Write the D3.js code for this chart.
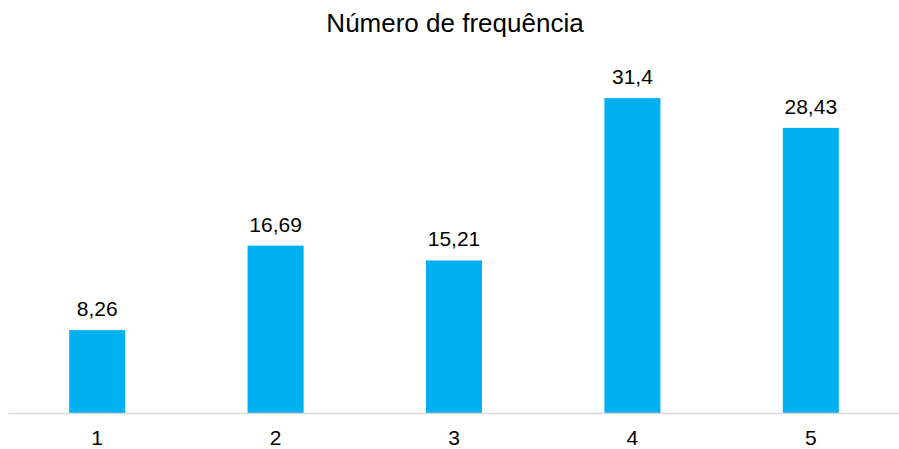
<!DOCTYPE html>
<html>
<head>
<meta charset="utf-8">
<script src="https://cdn.jsdelivr.net/npm/d3@7"></script>
<style>
  body { margin: 0; background: #fff; }
  text { font-family: "Liberation Sans", Arial, sans-serif; fill: #000; }
</style>
</head>
<body>
<svg id="chart" width="899" height="449"></svg>
<script>
// chart data
const categories = ["1", "2", "3", "4", "5"];
const values = [8.26, 16.69, 15.21, 31.4, 28.43];
const valueLabels = ["8,26", "16,69", "15,21", "31,4", "28,43"];
const title = "Número de frequência";

const width = 899, height = 449;
const svg = d3.select("#chart");

const x = d3.scaleBand()
  .domain(categories)
  .range([8, 900])
  .paddingInner(0.686)
  .paddingOuter(0.343);

const y = d3.scaleLinear()
  .domain([0, 35])
  .range([413, 62]);

// title
svg.append("text")
  .attr("x", 455)
  .attr("y", 32)
  .attr("text-anchor", "middle")
  .style("font-size", "26px")
  .text(title);

// bars
svg.selectAll("rect.bar")
  .data(values)
  .enter()
  .append("rect")
  .attr("class", "bar")
  .attr("x", (d, i) => x(categories[i]))
  .attr("y", d => y(d))
  .attr("width", x.bandwidth())
  .attr("height", d => y(0) - y(d))
  .attr("fill", "#00b0f0");

// value labels
svg.selectAll("text.val")
  .data(values)
  .enter()
  .append("text")
  .attr("class", "val")
  .attr("x", (d, i) => x(categories[i]) + x.bandwidth() / 2)
  .attr("y", d => y(d) - 14)
  .attr("text-anchor", "middle")
  .style("font-size", "21px")
  .text((d, i) => valueLabels[i]);

// x axis
const xAxis = svg.append("g")
  .attr("transform", `translate(0,${y(0)})`)
  .call(d3.axisBottom(x).tickSize(0).tickPadding(17));

xAxis.select(".domain")
  .attr("stroke", "#d9d9d9")
  .attr("stroke-width", 1.5);

xAxis.selectAll("text")
  .style("font-size", "21px")
  .style("font-family", "'Liberation Sans', Arial, sans-serif")
  .attr("fill", "#000");
</script>
</body>
</html>
